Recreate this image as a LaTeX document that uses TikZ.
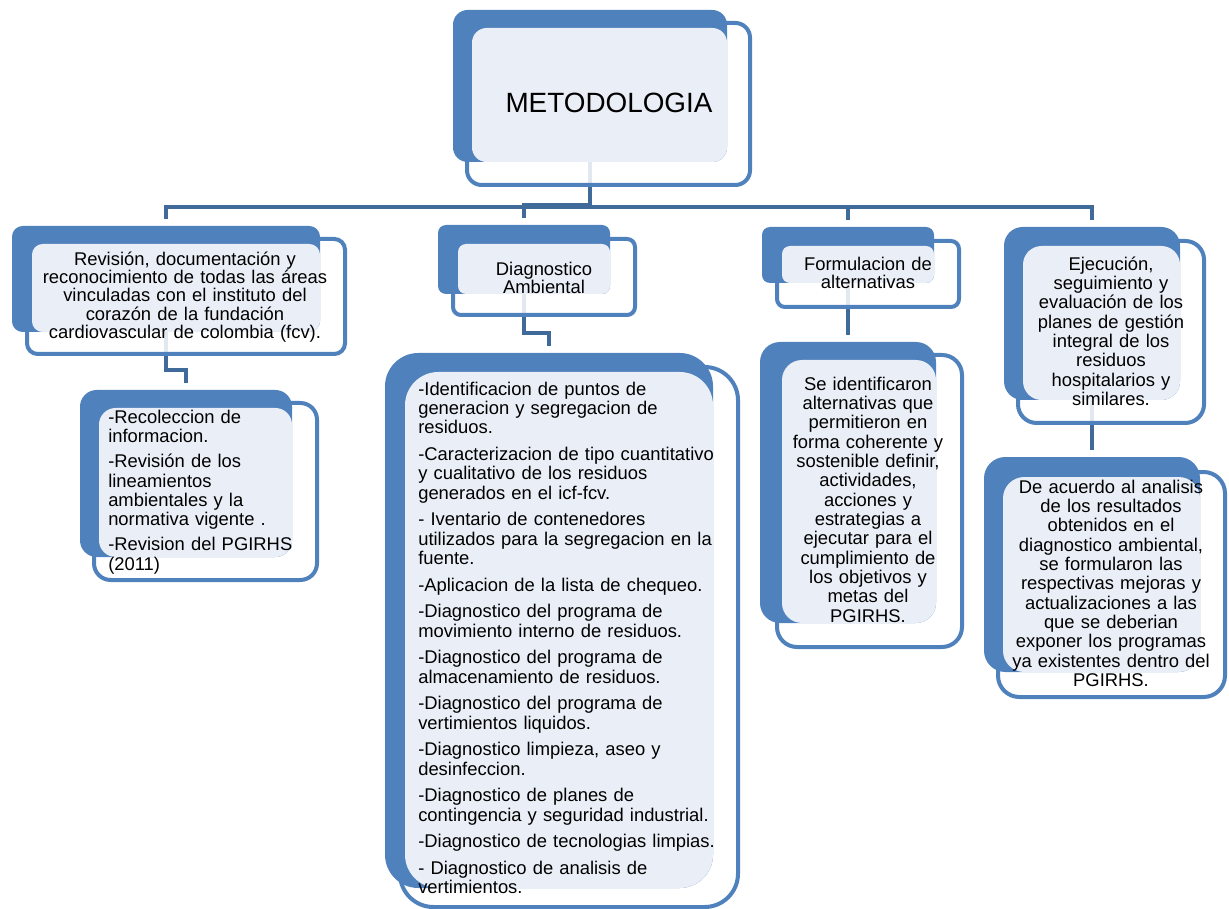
\documentclass[tikz,border=0pt]{standalone}
\usepackage{fontspec}
\setmainfont{Liberation Sans}
\usetikzlibrary{fit,calc,backgrounds}
\definecolor{bblue}{HTML}{4F81BD}
\definecolor{lfill}{HTML}{EAEFF7}
\definecolor{cline}{HTML}{3F6A9A}
\tikzset{
  obox/.style={draw=bblue, line width=3pt, fill=white, fill opacity=0.85, inner sep=0pt, outer sep=0pt},
  bbox/.style={fill=bblue, inner sep=0pt, outer sep=0pt},
  lbox/.style={fill=lfill, inner sep=0pt, outer sep=0pt},
  conn/.style={draw=cline, line width=3.4pt, shorten >=5pt},
  ctext/.style={anchor=north, inner sep=0pt, yshift=11pt, text width=330pt, align=center,
    font=\fontsize{13.8}{14.5}\selectfont, execute at begin node={\noindent\rule{0pt}{11pt}}},
  ltext/.style={anchor=north west, inner sep=0pt, yshift=11pt, text width=330pt, align=left,
    font=\fontsize{13.8}{14.5}\selectfont, execute at begin node={\noindent\rule{0pt}{11pt}}},
  ttext/.style={anchor=base, inner sep=0pt, font=\fontsize{20.9}{25}\selectfont}
}
% #1 name, #2 B top-left, #3 B bottom-right, #4 O top-left, #5 O bottom-right, #6 radius
\newcommand\dblbox[6]{%
  \node[obox, rounded corners=#6, fit={(#4)(#5)}] (#1O) {};
  \node[bbox, rounded corners=#6, fit={(#2)(#3)}] (#1B) {};
  \path (#4) ++(5,5) coordinate (#1a);
  \node[lbox, rounded corners=#6, fit={(#1a)(#3)}] (#1L) {};
}
\begin{document}
\begin{tikzpicture}[x=0.75pt,y=-0.75pt]
\useasboundingbox (0,0) rectangle (1229,909);
\begin{pgfonlayer}{background}
  \fill[white] (0,0) rectangle (1229,909);
\end{pgfonlayer}

% boxes
\dblbox{top}{453,10}{727,162}{467,23}{750,185}{11pt}
\dblbox{ca}{12,226}{320,332}{27,239}{345,354}{8pt}
\dblbox{cb}{438,225}{610,294}{453,239}{635,315}{6pt}
\dblbox{cc}{762,227}{934,283}{777,241}{959,307}{6pt}
\dblbox{cd}{1004,227}{1180,400}{1018,241}{1204,423}{14pt}
\dblbox{sa}{80,390}{292,557}{94,403}{317,580}{12.5pt}
\dblbox{sb}{385,353}{713,888}{400,367}{738,907}{25pt}
\dblbox{sc}{760,342}{936,623}{777,355}{962,647}{15pt}
\dblbox{sd}{984,457}{1200,672}{998,472}{1225,697}{16pt}

% texts
\node[ttext] (ttop) at (609,113) {METODOLOGIA};

\node[ctext, font=\fontsize{13.8}{13.7}\selectfont] (tca) at (185,265)
  {Revisión, documentación y\\ reconocimiento de todas las áreas\\ vinculadas con el instituto del\\ corazón de la fundación\\ cardiovascular de colombia (fcv).};
\node[ctext, font=\fontsize{13.8}{13.5}\selectfont] (tcb) at (544,275) {Diagnostico\\ Ambiental};
\node[ctext, font=\fontsize{13.8}{13.5}\selectfont] (tcc) at (868,270) {Formulacion de\\ alternativas};
\node[ctext] (tcd) at (1111,270)
  {Ejecución,\\ seguimiento y\\ evaluación de los\\ planes de gestión\\ integral de los\\ residuos\\ hospitalarios y\\ similares.};

\node[ltext] (tsa) at (108,423)
  {-Recoleccion de\\ informacion.\\[4.4pt] -Revisión de los\\ lineamientos\\ ambientales y la\\ normativa vigente .\\[4.4pt] -Revision del PGIRHS\\ (2011)};

\node[ltext] (tsb) at (418,395)
  {-Identificacion de puntos de\\ generacion y segregacion de\\ residuos.\\[5.5pt]
   -Caracterizacion de tipo cuantitativo\\ y cualitativo de los residuos\\ generados en el icf-fcv.\\[5.5pt]
   - Iventario de contenedores\\ utilizados para la segregacion en la\\ fuente.\\[5.5pt]
   -Aplicacion de la lista de chequeo.\\[5.5pt]
   -Diagnostico del programa de\\ movimiento interno de residuos.\\[5.5pt]
   -Diagnostico del programa de\\ almacenamiento de residuos.\\[5.5pt]
   -Diagnostico del programa de\\ vertimientos liquidos.\\[5.5pt]
   -Diagnostico limpieza, aseo y\\ desinfeccion.\\[5.5pt]
   -Diagnostico de planes de\\ contingencia y seguridad industrial.\\[5.5pt]
   -Diagnostico de tecnologias limpias.\\[5.5pt]
   - Diagnostico de analisis de\\ vertimientos.};

\node[ctext] (tsc) at (868,390)
  {Se identificaron\\ alternativas que\\ permitieron en\\ forma coherente y\\ sostenible definir,\\ actividades,\\ acciones y\\ estrategias a\\ ejecutar para el\\ cumplimiento de\\ los objetivos y\\ metas del\\ PGIRHS.};

\node[ctext] (tsd) at (1111,493)
  {De acuerdo al analisis\\ de los resultados\\ obtenidos en el\\ diagnostico ambiental,\\ se formularon las\\ respectivas mejoras y\\ actualizaciones a las\\ que se deberian\\ exponer los programas\\ ya existentes dentro del\\ PGIRHS.};

% connectors
\coordinate (busA) at (0,207);
\coordinate (busB) at (0,205);
\coordinate (elA) at (0,370);
\coordinate (elB) at (0,333);
\begin{pgfonlayer}{background}
  \draw[conn] (topB.south) -- (topB.south |- busA) -| (caB.north);
  \draw[conn] (topB.south) -- (topB.south |- busB) -| (cbB.north);
  \draw[conn] (topB.south) -- (topB.south |- busA) -| (ccB.north);
  \draw[conn] (topB.south) -- (topB.south |- busA) -| (cdB.north);
  \draw[conn] (caB.south) -- (caB.south |- elA) -| (saB.north);
  \draw[conn] (cbB.south) -- (cbB.south |- elB) -| (sbB.north);
  \draw[conn] (ccB.south) -- (scB.north);
  \draw[conn] (cdB.south) -- (sdB.north);
\end{pgfonlayer}
\end{tikzpicture}
\end{document}
